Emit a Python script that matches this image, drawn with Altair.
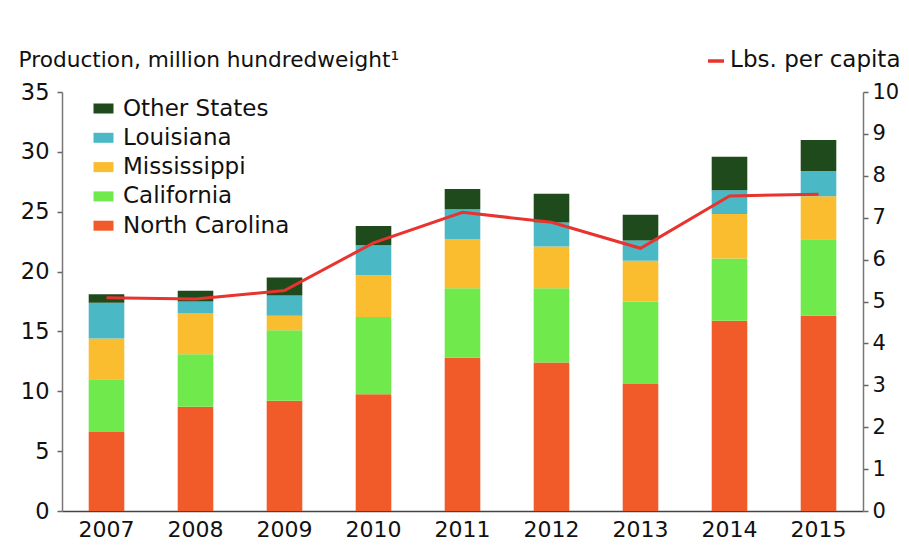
import altair as alt
import pandas as pd

years = ["2007", "2008", "2009", "2010", "2011", "2012", "2013", "2014", "2015"]
states = ["North Carolina", "California", "Mississippi", "Louisiana", "Other States"]
north_carolina = [6.6, 8.7, 9.2, 9.75, 12.8, 12.4, 10.6, 15.9, 16.3]
california = [4.4, 4.4, 5.9, 6.45, 5.8, 6.2, 6.9, 5.2, 6.4]
mississippi = [3.4, 3.4, 1.2, 3.5, 4.1, 3.5, 3.4, 3.7, 3.6]
louisiana = [3.0, 1.0, 1.7, 2.5, 2.5, 2.0, 1.7, 2.0, 2.1]
other_states = [0.7, 0.9, 1.5, 1.6, 1.7, 2.4, 2.15, 2.8, 2.6]
lbs_per_capita = [5.09, 5.06, 5.26, 6.4, 7.13, 6.89, 6.27, 7.52, 7.56]

legend_order = ["Other States", "Louisiana", "Mississippi", "California", "North Carolina"]
colors = ["#1f4a1c", "#4bb9c5", "#fbbd30", "#6fe94b", "#f15a29"]

series = [north_carolina, california, mississippi, louisiana, other_states]
rows = []
for rank, (st, vals) in enumerate(zip(states, series)):
    for y, v in zip(years, vals):
        rows.append({"year": y, "state": st, "value": v, "rank": rank})
bars_df = pd.DataFrame(rows)
line_df = pd.DataFrame({"year": years, "lbs": lbs_per_capita})

FONT = "DejaVu Sans"

x_enc = alt.X("year:O", title=None,
              scale=alt.Scale(paddingInner=0.6, paddingOuter=0.3),
              axis=alt.Axis(labelAngle=0, labelFontSize=22, labelColor="#111",
                            ticks=False, labelPadding=8, domainColor="#444",
                            domainWidth=1.5, labelFont=FONT))

bars = alt.Chart(bars_df).mark_bar().encode(
    x=x_enc,
    y=alt.Y("sum(value):Q", scale=alt.Scale(domain=[0, 35]),
            axis=alt.Axis(values=[0, 5, 10, 15, 20, 25, 30, 35], grid=False,
                          labelFontSize=22.5, labelColor="#111", labelFont=FONT,
                          tickSize=5, tickColor="#666", tickWidth=1.5,
                          domainColor="#777", domainWidth=1.5, labelPadding=8,
                          title="Production, million hundredweight¹",
                          titleAngle=0, titleAlign="left", titleBaseline="alphabetic",
                          titleX=-44, titleY=-26, titleFontSize=21.7,
                          titleFontWeight="normal", titleFont=FONT, titleColor="#111")),
    color=alt.Color("state:N", scale=alt.Scale(domain=legend_order, range=colors),
                    legend=alt.Legend(title=None, orient="none", legendX=30, legendY=5,
                                      symbolType="M-1,-0.5H1V0.5H-1Z", symbolSize=400,
                                      symbolStrokeWidth=0, labelFontSize=23,
                                      labelFont=FONT, labelColor="#111", labelLimit=400,
                                      labelOffset=8, rowPadding=5.3)),
    order=alt.Order("rank:Q", sort="ascending"),
)

line = alt.Chart(line_df).mark_line(color="#e8332f", strokeWidth=3).encode(
    x=alt.X("year:O"),
    y=alt.Y("lbs:Q", scale=alt.Scale(domain=[0, 10]),
            axis=alt.Axis(orient="right", values=list(range(11)), grid=False,
                          labelFontSize=21, labelColor="#111", labelFont=FONT,
                          tickSize=5, tickColor="#666", tickWidth=1.5,
                          domainColor="#777", domainWidth=1.5, labelPadding=4,
                          title="Lbs. per capita", titleAngle=0, titleAlign="right",
                          titleBaseline="alphabetic", titleX=37, titleY=-26,
                          titleFontSize=23, titleFontWeight="normal", titleFont=FONT,
                          titleColor="#111", titleLimit=400)),
)

dash = alt.Chart(pd.DataFrame({"k": [0]})).mark_rule(color="#e8332f", strokeWidth=3.5).encode(
    x=alt.value(646), x2=alt.value(662), y=alt.value(-31)
)

chart = alt.layer(bars, line, dash).resolve_scale(y="independent").properties(
    width=801, height=419,
    autosize=alt.AutoSizeParams(type="none"),
    padding={"left": 54, "top": 84, "right": 38, "bottom": 29},
).configure_view(stroke=None)

chart.save("out.html", embed_options={"renderer": "svg", "actions": False})
